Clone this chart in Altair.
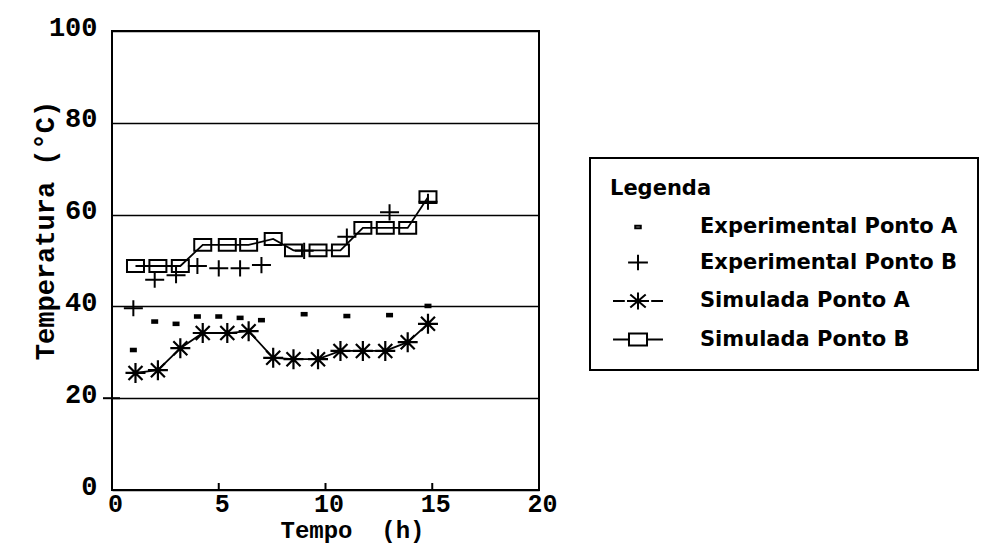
import altair as alt
import pandas as pd

# ---- data ----
t_sim = [1.1, 2.15, 3.2, 4.25, 5.4, 6.4, 7.55, 8.5, 9.65, 10.7, 11.75, 12.8, 13.85, 14.8]
sim_a = [25.5, 26.1, 30.9, 34.2, 34.2, 34.6, 28.8, 28.5, 28.5, 30.3, 30.3, 30.3, 32.2, 36.2]
sim_b = [48.8, 48.8, 48.8, 53.4, 53.4, 53.4, 54.7, 52.2, 52.2, 52.2, 57.1, 57.1, 57.1, 63.8]
t_exp = [1, 2, 3, 4, 5, 6, 7, 9, 11, 13, 14.8]
exp_a = [30.5, 36.7, 36.2, 37.8, 37.8, 37.5, 37.0, 38.3, 37.9, 38.1, 40.1]
exp_b = [39.6, 45.8, 46.8, 48.8, 48.3, 48.3, 49.0, 52.1, 55.2, 60.5, 62.8]

series_names = ["Experimental Ponto A", "Experimental Ponto B",
                "Simulada Ponto A", "Simulada Ponto B"]
x_ticks = [0, 5, 10, 15, 20]
x_inner_ticks = [5, 10, 15]
y_ticks = [0, 20, 40, 60, 80, 100]
y_outer_tick = [20]

# ---- symbol shapes ----
STAR = "M-1,0L1,0M0,-1L0,1M-0.7,-0.7L0.7,0.7M-0.7,0.7L0.7,-0.7"
BOX = "M-1,-0.7L1,-0.7L1,0.7L-1,0.7Z"
PLUS = "M-1,0L1,0M0,-0.85L0,0.85"
DOT = "M-1,-0.65L1,-0.65L1,0.65L-1,0.65Z"

LEG_A_EXP = "M-0.25,-0.12L0.25,-0.12L0.25,0.12L-0.25,0.12Z"
LEG_B_EXP = "M-0.9,0L0.9,0M0,-0.7L0,0.7"
LEG_A_SIM = ("M-2.27,0L-1.2,0M1.2,0L2.27,0M-1,0L1,0M0,-0.77L0,0.77"
             "M-0.7,-0.6L0.7,0.6M-0.7,0.6L0.7,-0.6")
LEG_B_SIM = ("M-2.27,0L-0.82,0M0.82,0L2.27,0"
             "M-0.82,-0.55L0.82,-0.55L0.82,0.55L-0.82,0.55Z")

df_sim = pd.DataFrame({"t": t_sim, "a": sim_a, "b": sim_b})
df_exp = pd.DataFrame({"t": t_exp, "a": exp_a, "b": exp_b})
df_leg = pd.DataFrame({"serie": series_names})
df_xt = pd.DataFrame({"t": x_inner_ticks})
df_yt = pd.DataFrame({"v": y_outer_tick})

MONO = "Liberation Mono, Courier New, Cousine, monospace"

x_axis = alt.Axis(values=x_ticks, grid=False, domain=False, ticks=False,
                  labelFont=MONO, labelFontSize=25, labelFontWeight="bold",
                  labelColor="black", labelPadding=1, labelOffset=3,
                  labelFlush=False,
                  title="Tempo\u00a0\u00a0(h)", titleFont=MONO, titleFontSize=24,
                  titleFontWeight="bold", titleColor="black",
                  titleX=240, titleY=40, titleBaseline="middle")
y_axis = alt.Axis(values=y_ticks, grid=True, gridColor="black", gridWidth=1.5,
                  gridOpacity=1, domain=False, ticks=False,
                  labelFont=MONO, labelFontSize=27, labelFontWeight="bold",
                  labelColor="black", labelPadding=15, labelOffset=-4,
                  labelFlush=False,
                  title="Temperatura (°C)", titleFont=MONO, titleFontSize=27,
                  titleFontWeight="bold", titleColor="black",
                  titleAngle=270, titleX=-67, titleY=199,
                  titleBaseline="middle", titleAlign="center")

xs = alt.Scale(domain=[0, 20], nice=False)
ys = alt.Scale(domain=[0, 100], nice=False)


def X(f="t"):
    return alt.X(f"{f}:Q", scale=xs, axis=x_axis)


def Y(f):
    return alt.Y(f"{f}:Q", scale=ys, axis=y_axis)


line_a = alt.Chart(df_sim).mark_line(color="black", strokeWidth=1.8).encode(x=X(), y=Y("a"))
line_b = alt.Chart(df_sim).mark_line(color="black", strokeWidth=1.8).encode(x=X(), y=Y("b"))
pts_a = alt.Chart(df_sim).mark_point(shape=STAR, size=400, filled=False, color="black",
                                     strokeWidth=2.2, opacity=1).encode(x=X(), y=Y("a"))
pts_b = alt.Chart(df_sim).mark_point(shape=BOX, size=289, filled=False, color="black",
                                     strokeWidth=2, opacity=1).encode(x=X(), y=Y("b"))
exp_pa = alt.Chart(df_exp).mark_point(shape=DOT, size=49, filled=True, color="black",
                                      opacity=1).encode(x=X(), y=Y("a"))
exp_pb = alt.Chart(df_exp).mark_point(shape=PLUS, size=361, filled=False, color="black",
                                      strokeWidth=2, opacity=1).encode(x=X(), y=Y("b"))

xt = alt.Chart(df_xt).mark_rule(color="black", strokeWidth=2).encode(
    x=X(), y=alt.value(459), y2=alt.value(452))
yt = alt.Chart(df_yt).mark_rule(color="black", strokeWidth=2).encode(
    y=Y("v"), x=alt.value(-9), x2=alt.value(8))

legend_layer = alt.Chart(df_leg).transform_filter("false").mark_point(
    filled=False, color="black", strokeWidth=2, opacity=1).encode(
    shape=alt.Shape("serie:N",
                    scale=alt.Scale(domain=series_names,
                                    range=[LEG_A_EXP, LEG_B_EXP, LEG_A_SIM, LEG_B_SIM]),
                    legend=alt.Legend(
                        title="Legenda", orient="none", legendX=478, legendY=127,
                        padding=20, strokeColor="black",
                        titleFont="DejaVu Sans", titleFontSize=21, titleFontWeight="bold",
                        titleColor="black", titlePadding=16,
                        labelFont="DejaVu Sans", labelFontSize=21, labelFontWeight="bold",
                        labelColor="black", labelLimit=600, labelOffset=50,
                        symbolSize=484, symbolOffset=16, symbolStrokeWidth=2,
                        symbolStrokeColor="black", symbolFillColor="transparent",
                        rowPadding=13.5)))

chart = alt.layer(line_a, line_b, pts_a, pts_b, exp_pa, exp_pb, xt, yt, legend_layer).properties(
    width=427, height=459,
    padding={"left": 104, "top": 23, "right": 445, "bottom": 55},
    autosize=alt.AutoSizeParams(type="none"),
    background="white",
).configure_view(stroke="black", strokeWidth=2).configure_legend(strokeWidth=2)

chart.save("out.html", embed_options={"renderer": "svg", "actions": False})
